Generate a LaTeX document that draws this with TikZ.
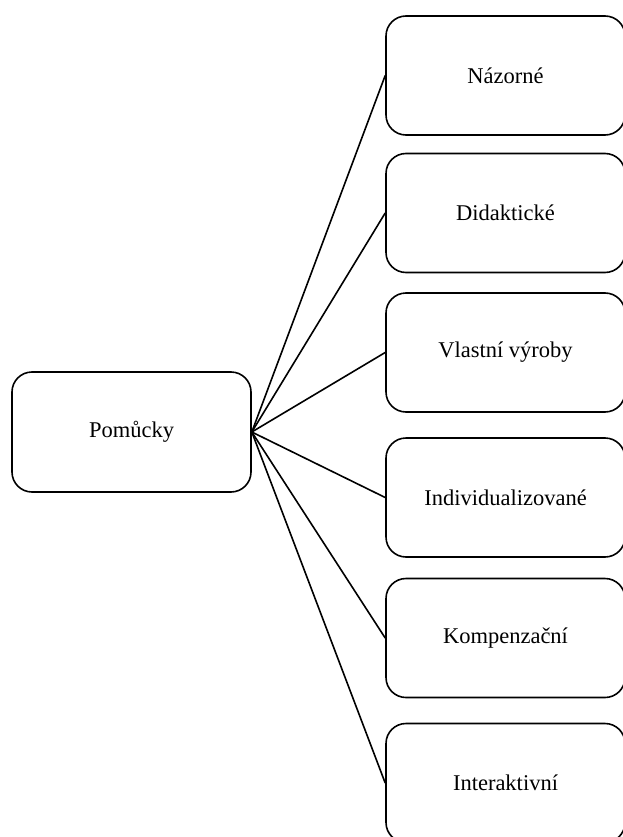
\documentclass[tikz,border=0pt]{standalone}
\usepackage{fontspec}
\setmainfont{Liberation Serif}
\usepackage{tikz}

\tikzset{
    box/.style={draw, line width=1.6pt, rounded corners=20pt, minimum width=239pt, minimum height=119pt, inner sep=0pt, font=\fontsize{22.5}{27}\selectfont}
}

\begin{document}
\begin{tikzpicture}[x=1pt,y=-1pt]
        \useasboundingbox (0,0) rectangle (623,837);
        \node[box, minimum height=120pt] (pom) at (131.5,432) {Pomůcky};
        \node[box] (naz) at (505.5,75.5) {Názorné};
        \node[box] (did) at (505.5,213) {Didaktické};
        \node[box] (vla) at (505.5,352.5) {Vlastní výroby};
        \node[box] (ind) at (505.5,497.5) {Individualizované};
        \node[box] (kom) at (505.5,638) {Kompenzační};
        \node[box] (int) at (505.5,783) {Interaktivní};
        \path[draw,line width=1.6pt] (pom.east) edge (naz.west);
        \path[draw,line width=1.6pt] (pom.east) edge (did.west);
        \path[draw,line width=1.6pt] (pom.east) edge (vla.west);
        \path[draw,line width=1.6pt] (pom.east) edge (ind.west);
        \path[draw,line width=1.6pt] (pom.east) edge (kom.west);
        \path[draw,line width=1.6pt] (pom.east) edge (int.west);
    \end{tikzpicture}
\end{document}
